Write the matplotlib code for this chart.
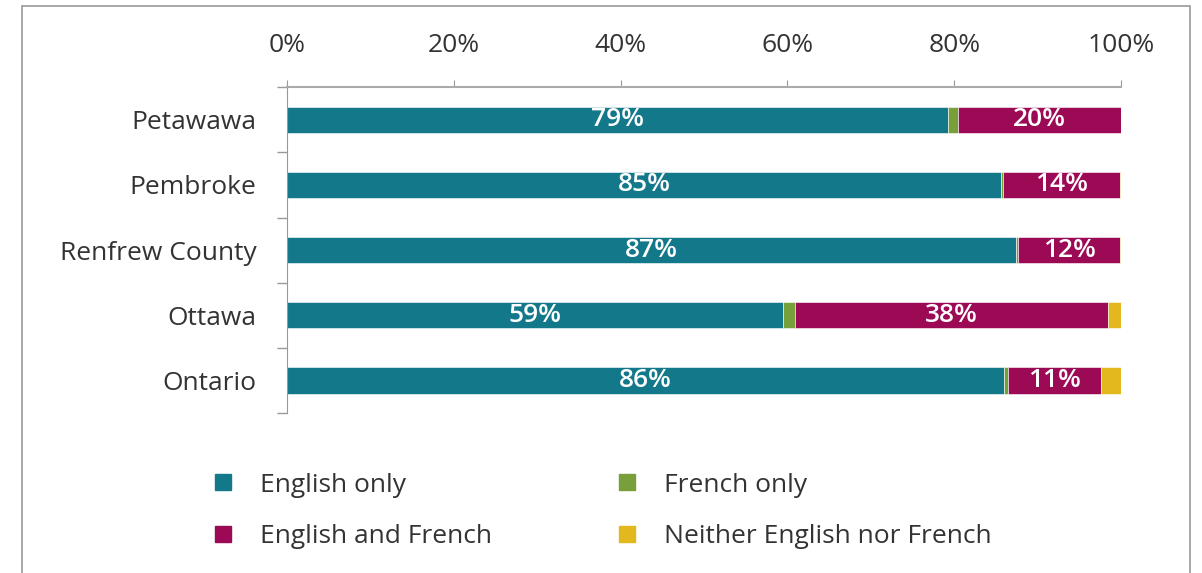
import matplotlib
matplotlib.use('Agg')
import matplotlib.pyplot as plt
from matplotlib.lines import Line2D
from matplotlib.patches import Rectangle
import numpy as np

plt.rcParams['font.family'] = ['Open Sans', 'DejaVu Sans']

# regions, top to bottom
regions = ['Petawawa', 'Pembroke', 'Renfrew County', 'Ottawa', 'Ontario']

# percent of population by official language knowledge
english_only = [79.3, 85.6, 87.4, 59.5, 86.0]
french_only = [1.1, 0.3, 0.3, 1.4, 0.4]
english_french = [19.6, 14.0, 12.2, 37.6, 11.2]
neither = [0.0, 0.1, 0.1, 1.5, 2.4]

eng_labels = ['79%', '85%', '87%', '59%', '86%']
both_labels = ['20%', '14%', '12%', '38%', '11%']

series = ['English only', 'French only', 'English and French', 'Neither English nor French']
colors = ['#13788A', '#78A03A', '#9C0A56', '#E3B81E']

fig = plt.figure(figsize=(12.02, 5.73), dpi=100)
ax = fig.add_axes([0.2388, 0.279, 0.6938, 0.569])

y = np.arange(len(regions))
data = [english_only, french_only, english_french, neither]
left = np.zeros(len(regions))
for vals, col in zip(data, colors):
    ax.barh(y, vals, left=left, height=0.4, color=col, edgecolor='white', linewidth=0.4)
    left = left + np.array(vals)

# data labels on english-only and english-and-french segments
for i in range(len(regions)):
    ax.text(english_only[i] / 2, y[i], eng_labels[i], ha='center', va='center',
            color='white', fontsize=19, fontweight='semibold')
    start = english_only[i] + french_only[i]
    ax.text(start + english_french[i] / 2, y[i], both_labels[i], ha='center', va='center',
            color='white', fontsize=19, fontweight='semibold')

ax.set_xlim(0, 100)
ax.set_ylim(len(regions) - 0.5, -0.5)
ax.set_xticks(np.arange(0, 101, 20))
ax.set_xticklabels([f'{v}%' for v in range(0, 101, 20)])
ax.xaxis.tick_top()
ax.tick_params(axis='x', length=5, color='#999999', pad=16, labelsize=19, labelcolor='#333333')
ax.set_yticks(y)
ax.set_yticklabels(regions)
ax.tick_params(axis='y', which='major', length=0, pad=22, labelsize=19, labelcolor='#333333')
ax.set_yticks(np.arange(-0.5, len(regions)), minor=True)
ax.tick_params(axis='y', which='minor', length=7, color='#999999', width=1)

for s in ['right', 'bottom']:
    ax.spines[s].set_visible(False)
ax.spines['left'].set_color('#999999')
ax.spines['top'].set_color('#aaaaaa')
ax.spines['top'].set_linewidth(1.5)

handles = [Line2D([], [], marker='s', linestyle='none', markersize=11, color=colors[i])
           for i in [0, 2, 1, 3]]
labels = [series[i] for i in [0, 2, 1, 3]]
fig.legend(handles, labels, ncol=2, loc='upper left', bbox_to_anchor=(0.155, 0.2165),
           frameon=False, fontsize=19, handlelength=1.0, handletextpad=0.9,
           columnspacing=4.6, labelspacing=1.0, labelcolor='#333333')

# outer frame
fig.patches.append(Rectangle((22 / 1202, -0.01), 1168 / 1202, 1.0, transform=fig.transFigure,
                             fill=False, edgecolor='#999999', linewidth=1.2))

fig.savefig('out.png', dpi=100)
